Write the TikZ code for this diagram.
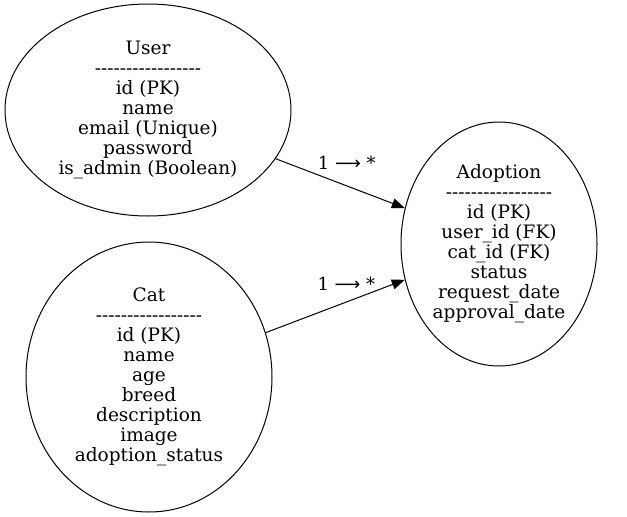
\documentclass[tikz,border=0pt]{standalone}
\usepackage{fontspec}
\setmainfont{DejaVu Serif}
\newfontfamily\symfont{DejaVu Sans}
\usetikzlibrary{shapes.geometric, arrows.meta}

\newcommand{\sepline}{\foreach \k in {1,...,17}{-\kern0pt}}

\tikzset{
  entity/.style={ellipse, draw, line width=1pt, inner sep=0pt, align=center,
    font=\fontsize{18.5}{20}\selectfont},
  rel/.style={-{Triangle[length=13pt,width=10pt]}, line width=1pt},
  card/.style={font=\fontsize{18}{20}\selectfont}
}

\begin{document}
\begin{tikzpicture}[x=1pt, y=-1pt]
  \useasboundingbox (0,0) rectangle (627,517);
  \node[entity, minimum width=286pt, minimum height=212pt] (user) at (148,110)
    {User\\\sepline\\id (PK)\\name\\email (Unique)\\password\\is\_admin (Boolean)};
  \node[entity, minimum width=246pt, minimum height=270pt] (cat) at (149,377)
    {Cat\\\sepline\\id (PK)\\name\\age\\breed\\description\\image\\adoption\_status};
  \node[entity, minimum width=196pt, minimum height=244pt] (adoption) at (499,244)
    {Adoption\\\sepline\\id (PK)\\user\_id (FK)\\cat\_id (FK)\\status\\request\_date\\approval\_date};
  % relations
  \draw[rel] (user) -- node[card, pos=0.55, above=13pt] {1 {\symfont ⟶} *} (adoption);
  \draw[rel] (cat) -- node[card, pos=0.58, above=8pt] {1 {\symfont ⟶} *} (adoption);
\end{tikzpicture}
\end{document}
